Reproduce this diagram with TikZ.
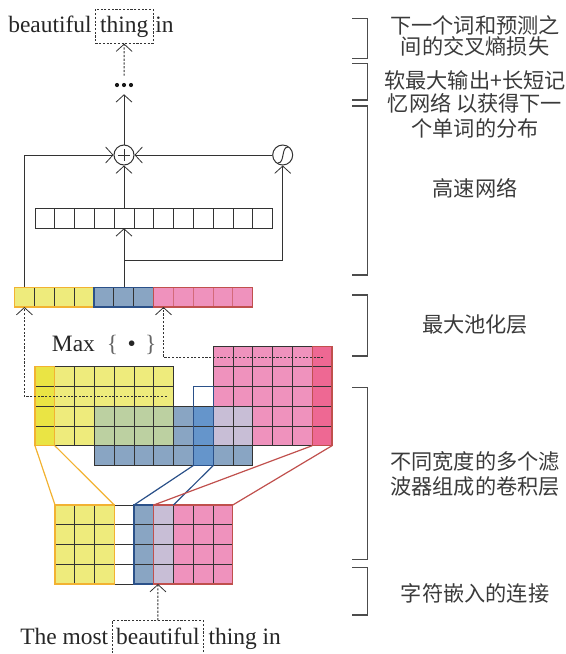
\documentclass[tikz,border=0pt]{standalone}
\usepackage{fontspec}
\setmainfont{Liberation Serif}
\newfontfamily\cjk{Noto Sans CJK SC}
\usetikzlibrary{arrows.meta}
\definecolor{yel}{HTML}{EEEB7C}
\definecolor{yelB}{HTML}{EAE444}
\definecolor{blu}{HTML}{89A5C3}
\definecolor{bluB}{HTML}{6595CB}
\definecolor{pnk}{HTML}{EF92BD}
\definecolor{pnkB}{HTML}{EE6893}
\definecolor{grn}{HTML}{BCD0A1}
\definecolor{lav}{HTML}{C8BED6}
\definecolor{orB}{HTML}{F2B232}
\definecolor{blB}{HTML}{2B5189}
\definecolor{rdB}{HTML}{C0504D}
\definecolor{ink}{HTML}{333333}
\definecolor{txt}{HTML}{3A3A3A}
\tikzset{
 cellc/.style={draw=ink, line width=0.6pt},
 conn/.style={draw=ink, line width=0.75pt},
 arr/.style={conn, -{Straight Barb[length=5.5pt,width=12pt,line width=0.6pt]}},
 dotarr/.style={arr, dash pattern=on 1.6pt off 1.2pt},
 dotline/.style={conn, dash pattern=on 1.6pt off 1.2pt},
 brk/.style={draw=black!70, line width=0.8pt},
 zh/.style={font=\cjk\fontsize{15.9}{16}\selectfont, text=txt, inner sep=0},
 en/.style={font=\fontsize{17.6}{18}\selectfont, text=black!85, inner sep=0},
 enbox/.style={en, draw=ink, line width=0.6pt, dash pattern=on 1.6pt off 1.2pt, text height=14pt, text depth=4.5pt, inner ysep=3.5pt},
}
\newcommand\cvcell[3]{\filldraw[cellc, fill=#3] ({35+#1*19.8},{346.7+#2*19.8}) rectangle ++(19.8,19.8);}
\newcommand\incell[3]{\filldraw[cellc, fill=#3] ({55+#1*19.75},{505+#2*19.75}) rectangle ++(19.75,19.75);}
\newcommand\plcell[2]{\filldraw[cellc, fill=#2] ({14.5+#1*19.85},287.3) rectangle ++(19.85,19.7);}
\begin{document}
\begin{tikzpicture}[x=0.75pt,y=-0.75pt]
\useasboundingbox (0,0) rectangle (566,654);
% ---------- top words
\node[en, anchor=base west] (w1) at (8,32.5) {beautiful};
\node[enbox, anchor=base west, inner xsep=3.5pt] (thing) at (95,32.5) {thing};
\node[en, anchor=base west] (w3) at (155,32.5) {in};
\node[inner sep=0, minimum width=22pt, minimum height=13.5pt] (dots) at (124,85) {};
\foreach \dx in {-7,0,7} \fill[black!90] (124+\dx,85) circle (2.1);
\draw[dotarr] (dots.north) -- (thing.south);
% ---------- highway
\node[circle, draw=ink, line width=0.75pt, minimum size=15pt, inner sep=0] (plus) at (124,155) {};
\draw[conn] (118,155) -- (130,155) (124,149) -- (124,161);
\node[circle, draw=ink, line width=0.75pt, minimum size=15pt, inner sep=0] (sig) at (282.7,155) {};
\draw[conn] (278,163) .. controls (285,163) and (281,147) .. (288,147);
\foreach \i in {0,...,11} \filldraw[cellc, fill=white] ({35+\i*19.8},208.3) rectangle ++(19.8,20);
\coordinate (hwT) at (124,208.3);
\coordinate (hwB) at (124,228.3);
\coordinate (poolT) at (124,287.3);
\coordinate (split) at (124,260);
\coordinate (lsrc) at (24,287.3);
\draw[arr] (plus.north) -- (dots.south);
\draw[arr] (hwT) -- (plus.south);
\draw[arr] (poolT) -- (hwB);
\draw[arr] (split) -| (sig.south);
\draw[arr] (lsrc) |- (plus.west);
\draw[arr] (sig.west) -- (plus.east);
% ---------- pooling row
\foreach \i in {0,...,3} \plcell{\i}{yel};
\foreach \i in {4,...,6} \plcell{\i}{blu};
\foreach \i in {7,...,11} {\filldraw[draw=rdB!60!pnk, line width=0.6pt, fill=pnk] ({14.5+\i*19.85},287.3) rectangle ++(19.85,19.7);}
\draw[orB, line width=1pt] (14.5,287.3) rectangle ++({4*19.85},19.7);
\draw[blB, line width=1pt] ({14.5+4*19.85},287.3) rectangle ++({3*19.85},19.7);
\draw[rdB, line width=1pt] ({14.5+7*19.85},287.3) rectangle ++({5*19.85},19.7);
% ---------- conv output
\foreach \c in {9,...,14} \foreach \r in {0,...,4} \cvcell{\c}{\r}{pnk};
\foreach \c in {0,...,6} \foreach \r in {1,...,4} \cvcell{\c}{\r}{yel};
\foreach \c in {3,...,10} \cvcell{\c}{5}{blu};
\foreach \c in {3,...,6} \foreach \r in {3,4} \cvcell{\c}{\r}{grn};
\foreach \r in {3,4} {\cvcell{7}{\r}{blu} \cvcell{9}{\r}{lav} \cvcell{10}{\r}{lav}}
\foreach \r in {3,4,5} \cvcell{8}{\r}{bluB};
\foreach \r in {1,...,4} \cvcell{0}{\r}{yelB};
\foreach \r in {0,...,4} \cvcell{14}{\r}{pnkB};
\draw[orB, line width=1pt] (35,366.5) rectangle (54.8,445.7);
\draw[blB, line width=1pt] (193.4,386.3) rectangle (213.2,465.5);
\draw[rdB, line width=1pt] (312.2,346.7) rectangle (332,445.7);
% max label and dashed pooling arrows
\node[en, anchor=base west] (maxl) at (51.7,351.7) {Max\hspace{9pt}\textcolor{black!60}{\{}\hspace{7pt}\textbullet\hspace{7pt}\textcolor{black!60}{\}}};
\coordinate (yA) at (166.7,396.7);
\coordinate (yP) at (24.4,307);
\coordinate (pA) at (323.3,357.3);
\coordinate (pP) at (163.5,307);
\draw[dotarr] (yA) -| (yP);
\draw[dotarr] (pA) -| (pP);
% ---------- input grid
\foreach \r in {0,...,3} {
  \foreach \c in {0,1,2} \incell{\c}{\r}{yel};
  \incell{3}{\r}{white}
  \incell{4}{\r}{blu}
  \incell{5}{\r}{lav}
  \foreach \c in {6,7,8} \incell{\c}{\r}{pnk};
}
\draw[orB, line width=1pt] (55,505) rectangle (114.25,584);
\draw[blB, line width=1pt] (134,505) rectangle (153.75,584);
\draw[rdB, line width=1pt] (153.75,505) rectangle (232.75,584);
% connections conv -> input
\coordinate (oy1) at (35,445.7); \coordinate (oy2) at (54.8,445.7);
\coordinate (iy1) at (55,505); \coordinate (iy2) at (114.25,505);
\coordinate (ob1) at (193.4,465.5); \coordinate (ob2) at (213.2,465.5);
\coordinate (ib1) at (134,505); \coordinate (ib2) at (173.5,505);
\coordinate (op1) at (312.2,445.7); \coordinate (op2) at (332,445.7);
\coordinate (ip1) at (153.75,505); \coordinate (ip2) at (232.75,505);
\draw[orB, line width=0.9pt] (oy1) -- (iy1) (oy2) -- (iy2);
\draw[blB, line width=0.9pt] (ob1) -- (ib1) (ob2) -- (ib2);
\draw[rdB, line width=0.9pt] (op1) -- (ip1) (op2) -- (ip2);
% ---------- bottom words
\node[en, anchor=base west] (b1) at (20,644) {The most};
\node[enbox, anchor=base west, inner xsep=2.8pt] (beaut) at (112,644) {beautiful};
\node[en, anchor=base west] (b3) at (208.3,644) {thing in};
\coordinate (inB) at (158,584);
\draw[dotarr] (beaut.north) -- (inB);
% ---------- brackets
\foreach \a/\b in {18.3/58.3, 63.3/100, 106/275, 295/356, 387.3/559.3, 567.3/615}
  \draw[brk] (352,\a) -- (367.3,\a) -- (367.3,\b) -- (352,\b);
% ---------- labels
\node[zh] (t1) at (475,25) {下一个词和预测之};
\node[zh] (t2) at (475,46.5) {间的交叉熵损失};
\node[zh] (t3) at (475,80) {软最大输出+长短记};
\node[zh] (t4) at (475,103.3) {忆网络 以获得下一};
\node[zh] (t5) at (475,128.3) {个单词的分布};
\node[zh] (t6) at (475,188.3) {高速网络};
\node[zh] (t7) at (475,325) {最大池化层};
\node[zh] (t8) at (475,461.7) {不同宽度的多个滤};
\node[zh] (t9) at (475,486.7) {波器组成的卷积层};
\node[zh] (t10) at (475,593.3) {字符嵌入的连接};
\end{tikzpicture}
\end{document}
